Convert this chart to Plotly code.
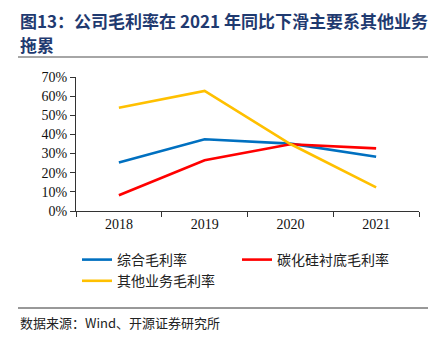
import plotly.graph_objects as go

years = ["2018", "2019", "2020", "2021"]
total_margin = [25.3, 37.5, 35.2, 28.3]
sic_margin = [8.2, 26.5, 34.9, 32.7]
other_margin = [53.9, 62.7, 35.0, 12.3]
series_names = ["综合毛利率", "碳化硅衬底毛利率", "其他业务毛利率"]
colors = ["#0070C0", "#FF0000", "#FFC000"]
y_ticks = [0, 10, 20, 30, 40, 50, 60, 70]

W, H = 445, 343
L, R, T, B = 76, 26, 77, 132
pw, ph = W - L - R, H - T - B

def px(x):
    return (x - L) / pw

def py(y):
    return (H - B - y) / ph

fig = go.Figure()
for name, vals, c in zip(series_names, [total_margin, sic_margin, other_margin], colors):
    fig.add_trace(go.Scatter(x=years, y=vals, name=name, mode="lines",
                             line=dict(color=c, width=2.6)))

cjk = "Noto Sans CJK SC"
serif = "Liberation Serif"

fig.update_layout(
    width=W, height=H,
    margin=dict(l=L, r=R, t=T, b=B),
    paper_bgcolor="white", plot_bgcolor="white",
    showlegend=True,
    legend=dict(orientation="h", x=px(77), y=py(244), xanchor="left", yanchor="top",
                entrywidth=115, entrywidthmode="pixels",
                font=dict(family=cjk, size=14, color="#222"),
                bgcolor="rgba(0,0,0,0)", itemwidth=30, tracegroupgap=0),
    xaxis=dict(type="category", showgrid=False, showline=True, linecolor="#333", linewidth=1,
               ticks="outside", tickson="boundaries", ticklen=5, tickcolor="#333",
               tickfont=dict(family=serif, size=14, color="#111"), range=[-0.5, 3.5]),
    yaxis=dict(range=[0, 70], tickvals=y_ticks, ticktext=[f"{v}%" for v in y_ticks],
               showgrid=False, showline=True, linecolor="#333", linewidth=1,
               ticks="outside", ticklen=5, tickcolor="#333", zeroline=False,
               tickfont=dict(family=serif, size=14, color="#111")),
)

title_color = "#1F3A70"
fig.add_annotation(text="<b>图13：公司毛利率在 2021 年同比下滑主要系其他业务</b>",
                   xref="paper", yref="paper", x=px(18), y=py(20), xanchor="left", yanchor="middle",
                   showarrow=False, font=dict(family=cjk, size=17, color=title_color))
fig.add_annotation(text="<b>拖累</b>",
                   xref="paper", yref="paper", x=px(18), y=py(44), xanchor="left", yanchor="middle",
                   showarrow=False, font=dict(family=cjk, size=17, color=title_color))
fig.add_shape(type="line", xref="paper", yref="paper", x0=px(18), x1=px(428), y0=py(57), y1=py(57),
              line=dict(color="#888", width=1.5))
fig.add_shape(type="line", xref="paper", yref="paper", x0=px(18), x1=px(428), y0=py(308), y1=py(308),
              line=dict(color="#333", width=1))
fig.add_annotation(text="数据来源：Wind、开源证券研究所",
                   xref="paper", yref="paper", x=px(18), y=py(322), xanchor="left", yanchor="middle",
                   showarrow=False, font=dict(family=cjk, size=13, color="#222"))

fig.write_html("out.html")
